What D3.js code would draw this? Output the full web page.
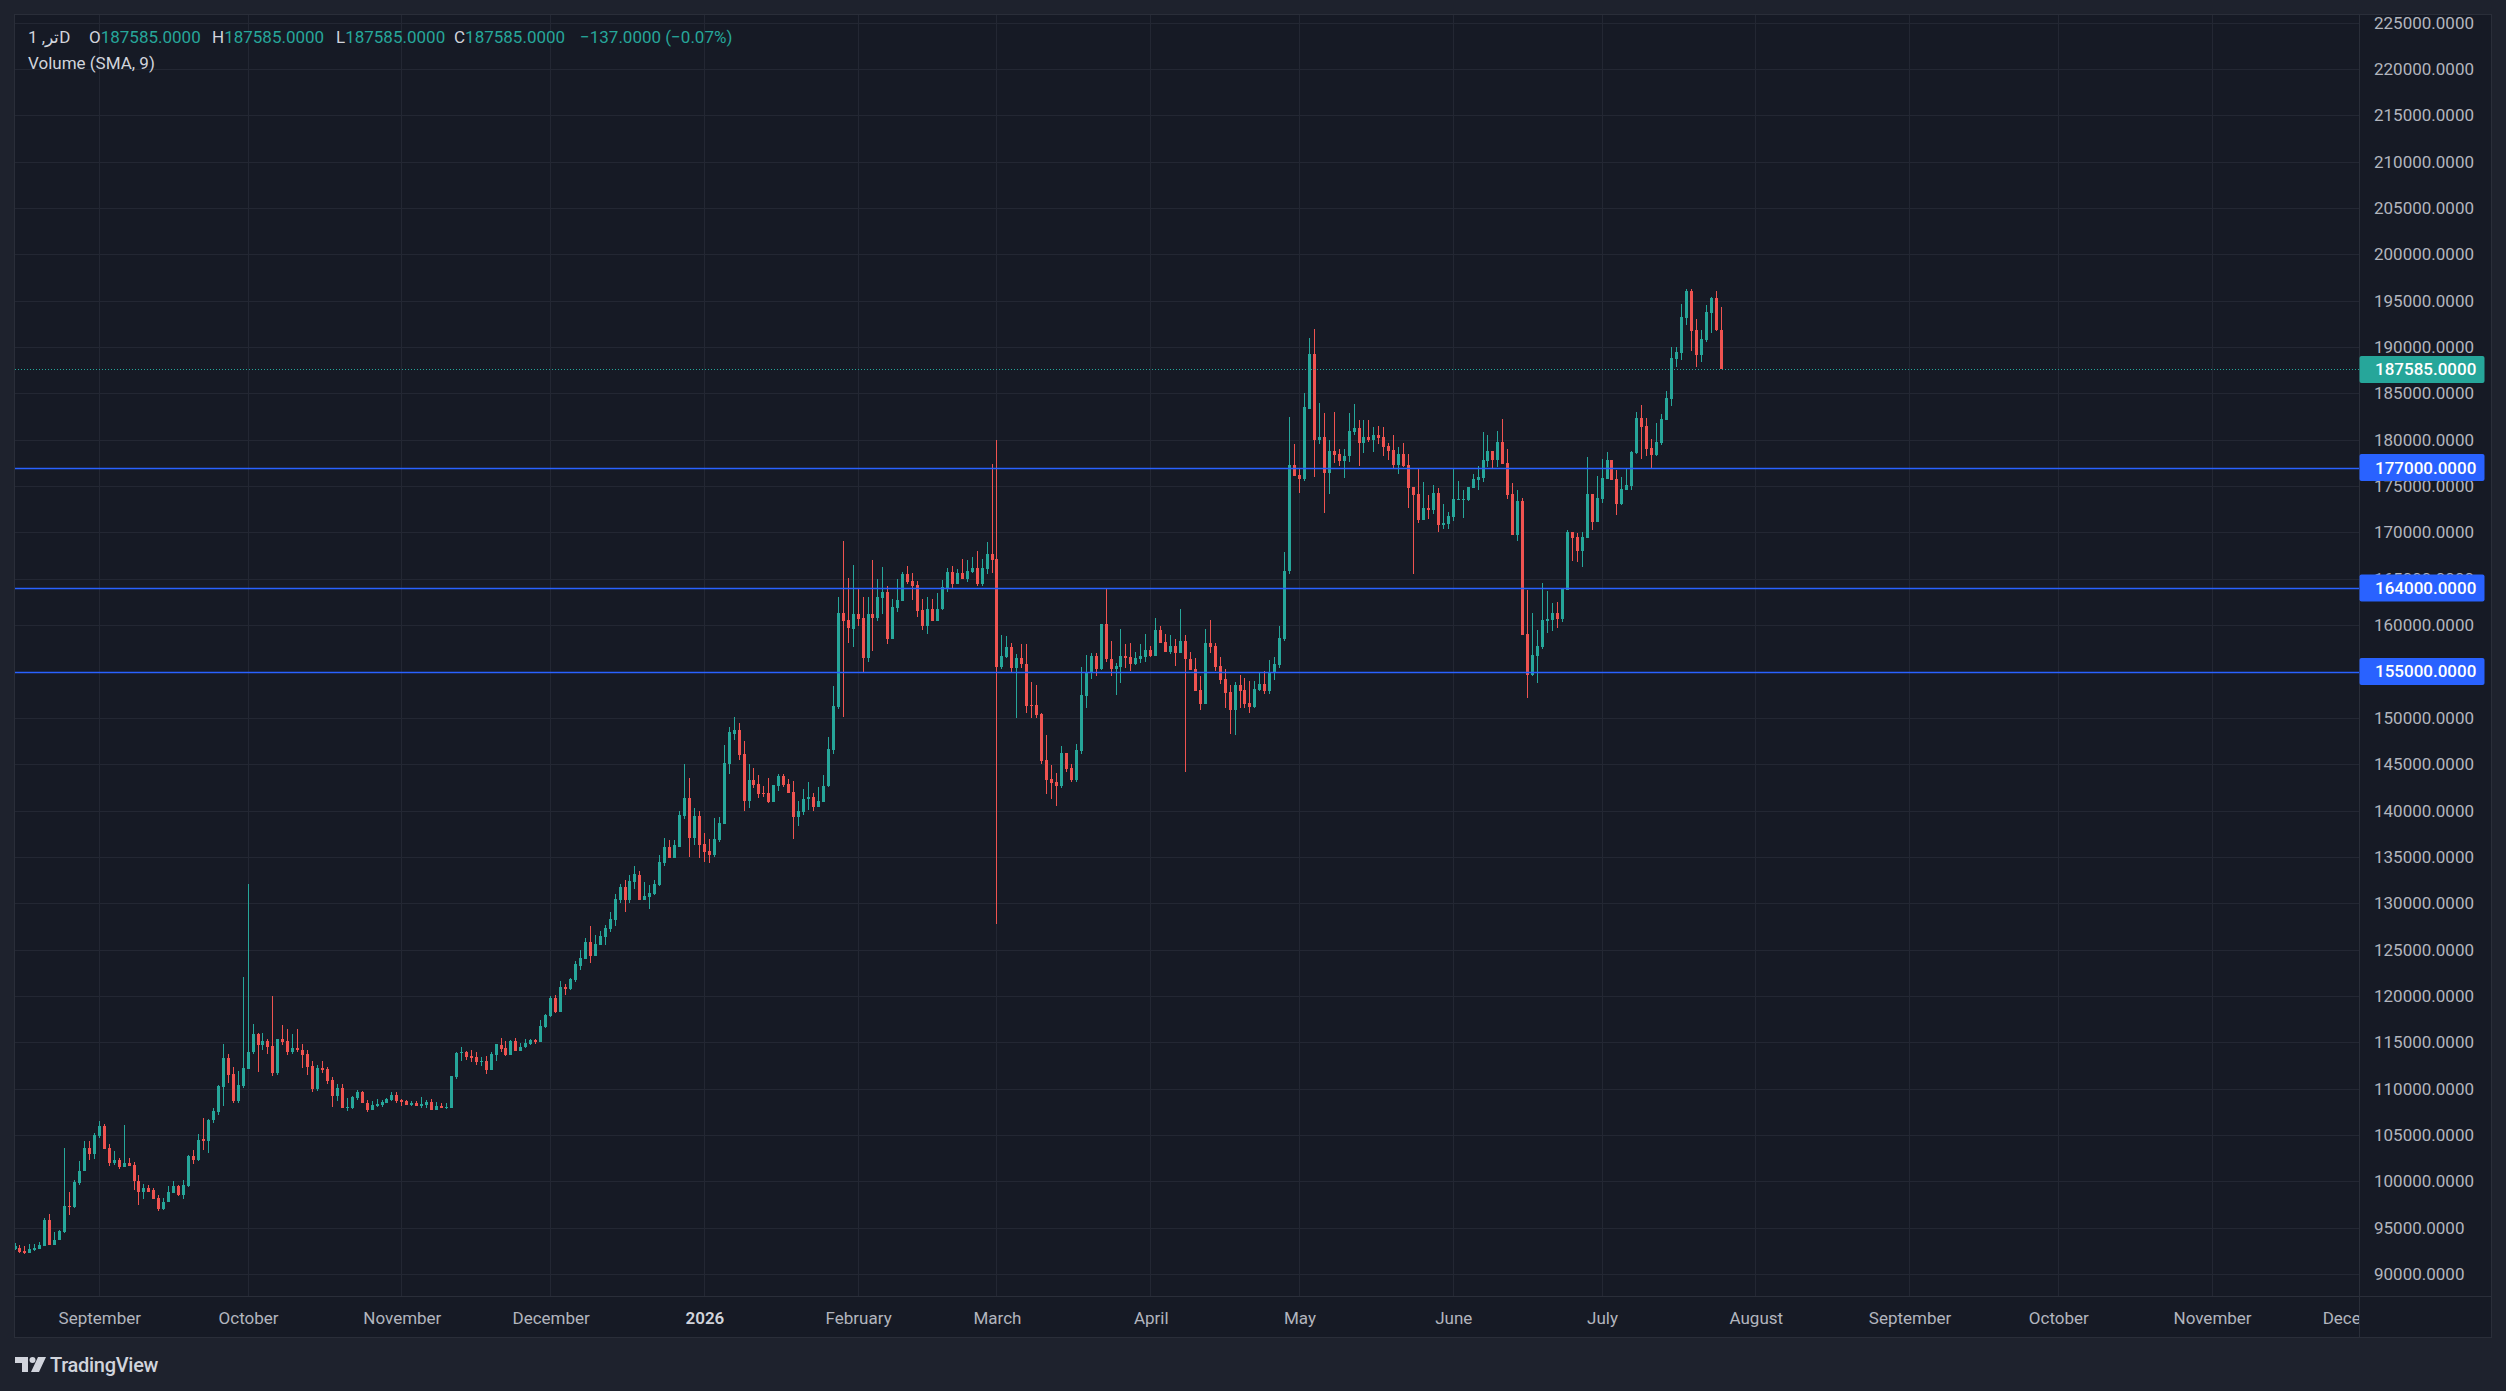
<!DOCTYPE html>
<html>
<head>
<meta charset="utf-8">
<script src="https://cdnjs.cloudflare.com/ajax/libs/d3/7.8.5/d3.min.js"></script>
<style>
  html, body { margin: 0; padding: 0; background: #1e222d; }
  svg { display: block; }
  text { font-family: Roboto, "Liberation Sans", sans-serif; }
</style>
</head>
<body>
<div class="container"></div>
<script>
const w = 2506;
const h = 1391;

// daily candles starting on firstDay, prices in thousands (one line per month)
const firstDay = '2025-08-15';

const open = [
  92.7,92.8,92.5,92.3,92.6,92.7,93.0,95.8,93.1,93.7,94.5,97.3,97.2,99.8,101.1,103.6,102.9,
  104.9,106.0,103.6,102.0,102.3,101.6,102.0,101.8,100.0,98.9,99.3,99.1,98.2,97.0,97.8,98.7,99.5,98.5,99.5,102.7,102.3,104.6,104.3,106.6,107.5,110.2,113.3,111.6,108.7,110.3,
  112.1,114.0,115.9,114.7,115.1,114.6,111.7,115.4,115.1,114.0,114.4,114.2,113.7,112.4,110.0,112.2,112.1,110.9,109.2,110.1,107.9,107.9,109.0,109.6,108.5,107.7,108.1,108.2,108.5,108.8,109.3,
  108.8,108.7,108.2,108.4,108.1,108.2,108.6,107.7,108.1,107.9,107.9,111.3,113.8,114.0,113.5,113.4,112.9,113.0,112.0,113.6,114.7,114.4,113.6,115.1,114.1,114.5,114.8,115.3,115.0,116.7,
  117.8,119.8,118.3,121.0,120.8,121.7,123.2,124.0,125.8,124.3,125.5,126.4,127.2,128.2,130.4,131.8,130.4,132.3,133.1,130.4,130.7,131.0,132.0,134.3,136.1,134.9,136.1,139.4,141.4,137.0,139.4,
  136.4,135.6,135.2,136.8,138.6,145.0,148.3,148.7,146.1,141.0,143.3,142.9,141.9,141.9,140.9,142.7,143.7,142.9,142.0,139.3,139.9,141.2,141.5,140.4,140.9,142.6,146.5,151.2,161.3,160.6,159.6,
  161.2,160.8,156.5,161.2,160.8,162.9,163.6,158.5,161.9,162.6,165.5,164.8,164.3,161.6,159.9,161.7,160.4,161.7,164.0,165.7,164.4,165.6,165.0,165.7,166.2,164.4,166.1,167.7,
  167.1,155.5,156.6,157.6,155.4,156.5,155.8,151.4,151.4,150.4,145.5,143.4,143.1,142.6,146.2,144.6,143.3,146.4,152.4,154.9,156.7,155.3,160.1,156.4,155.3,155.5,156.7,156.6,155.8,156.4,156.6,
  157.3,156.7,159.5,158.2,157.1,157.8,157.0,158.3,156.4,155.3,153.0,151.5,158.1,157.8,155.6,154.2,152.8,150.8,153.5,153.0,151.6,151.2,153.0,153.7,152.9,154.8,155.7,158.5,165.8,177.3,
  176.2,175.8,183.3,189.3,180.0,180.3,176.4,178.8,178.5,177.7,178.2,180.8,181.3,179.7,180.3,180.0,180.5,180.3,179.3,178.9,177.3,178.5,177.3,174.9,174.1,171.3,172.6,172.4,174.3,170.8,170.9,
  171.7,173.5,173.5,173.5,174.8,175.7,175.9,177.7,178.8,177.8,179.8,177.5,174.1,169.7,173.4,159.0,154.6,156.7,157.7,160.5,160.6,161.3,160.7,163.8,170.0,169.5,168.0,169.4,174.1,171.1,
  173.6,175.8,177.8,175.8,173.1,174.6,175.0,178.6,182.4,181.5,179.1,178.4,179.7,182.1,184.4,188.7,189.4,193.1,196.1,191.8,189.2,190.8,193.7,195.3,191.9
];

const high = [
  93.3,93.1,93.0,93.2,93.2,93.5,96.0,96.5,94.5,94.7,103.6,98.8,100.1,102.2,104.4,104.4,105.2,
  106.5,106.2,104.0,103.3,102.5,106.1,102.5,102.1,100.7,99.7,99.6,99.3,98.5,98.2,99.5,100.0,99.6,100.1,102.8,103.4,105.1,106.8,106.7,107.9,110.4,114.8,113.7,112.3,111.9,122.0,
  132.1,117.0,116.0,116.0,115.4,120.0,115.4,116.9,116.4,115.9,116.4,114.8,114.2,113.0,112.6,113.0,112.3,111.3,110.5,110.5,109.0,109.2,109.9,109.7,108.8,108.7,108.9,108.8,109.0,109.6,109.6,
  108.9,108.8,108.7,108.7,109.1,108.8,108.9,108.6,108.5,108.5,111.4,114.0,114.5,114.1,114.2,114.0,113.4,113.5,113.9,114.8,115.5,115.1,115.3,115.5,114.9,115.4,115.4,115.4,117.4,118.1,
  120.0,120.1,121.6,121.3,121.9,123.8,125.0,126.2,127.6,126.6,127.0,127.7,129.1,131.0,132.1,132.5,133.1,134.0,133.5,132.3,132.0,132.5,135.2,137.0,136.8,136.8,140.0,145.0,143.5,140.3,140.0,
  137.6,136.9,139.2,139.3,147.1,149.0,150.1,149.5,147.5,145.0,144.6,143.8,142.7,143.5,142.8,143.9,143.9,143.4,143.2,141.0,142.3,143.1,141.9,142.5,143.8,147.9,153.4,163.0,169.1,165.1,166.5,
  164.0,163.0,163.0,167.0,165.0,166.3,164.2,162.8,165.0,165.7,166.4,165.6,164.8,162.8,163.0,162.8,163.5,164.9,166.2,166.4,166.1,167.1,167.0,167.4,168.0,167.1,169.0,177.4,
  180.0,158.9,158.8,158.1,156.9,158.0,158.0,153.9,153.5,150.5,148.2,144.9,144.1,147.0,146.2,145.0,147.2,155.5,156.8,157.0,157.0,160.1,164.0,158.3,155.9,159.6,158.0,158.1,157.1,158.0,159.0,
  157.8,160.8,159.9,159.0,158.9,158.5,161.8,158.9,157.1,156.5,154.5,159.6,160.6,158.1,156.6,155.3,153.6,153.9,154.6,154.3,154.0,154.0,155.0,155.1,156.2,156.6,159.9,167.9,182.5,179.6,
  176.9,185.1,191.0,192.0,184.0,182.9,180.0,183.0,179.0,179.0,182.9,183.9,182.1,182.1,182.1,181.4,181.5,181.4,179.7,180.5,179.2,179.7,178.5,174.9,176.8,175.5,174.0,175.1,174.8,173.1,172.2,
  177.0,175.6,174.6,174.9,176.3,177.2,180.8,180.5,178.8,180.9,182.2,179.0,175.3,174.6,173.7,163.8,161.3,159.5,164.5,163.7,162.4,162.5,164.0,170.3,170.0,169.9,170.1,178.1,174.2,176.1,
  177.9,178.7,177.8,176.7,176.0,177.0,178.8,183.0,183.8,182.3,180.1,181.8,182.8,185.3,190.0,190.0,194.6,196.3,196.3,193.0,191.8,194.5,195.4,196.0,194.3
];

const low = [
  92.6,92.3,92.2,92.3,92.5,92.7,93.0,93.1,93.1,93.7,94.4,96.4,97.1,99.6,101.1,102.3,102.4,
  104.7,103.5,101.7,101.8,101.3,101.6,101.7,99.1,97.4,98.1,98.9,98.1,96.8,96.9,97.8,98.7,98.4,98.1,99.4,101.9,102.2,103.4,103.1,106.3,107.2,108.1,110.6,108.4,108.5,110.1,
  112.1,113.7,111.8,114.2,113.7,111.4,111.5,114.7,113.6,113.7,114.0,112.2,111.5,109.6,109.7,111.7,110.5,108.0,108.7,107.9,107.6,107.8,108.8,108.5,107.5,107.7,108.0,108.0,108.4,108.7,108.5,
  108.1,108.2,108.1,108.1,107.9,107.9,107.7,107.7,107.9,107.8,107.9,111.0,113.0,113.1,112.9,112.6,112.4,111.6,112.0,113.0,114.0,113.5,113.6,114.1,114.1,114.4,114.7,114.8,115.0,116.5,
  117.7,118.2,118.3,120.1,120.6,121.5,122.8,124.0,123.6,124.3,125.5,125.5,126.9,127.6,130.0,129.1,130.0,131.5,130.4,130.3,129.4,130.9,131.9,134.0,134.9,134.9,136.1,139.1,135.0,136.3,134.9,
  134.5,134.3,135.0,136.6,138.6,143.9,147.6,145.5,140.0,140.3,142.4,141.4,141.5,140.8,140.9,142.1,142.5,141.9,136.9,138.3,139.5,140.1,140.0,140.4,140.9,142.5,146.1,151.0,150.1,158.1,157.7,
  159.9,155.0,156.0,157.2,160.4,161.2,158.0,158.5,161.4,162.6,164.4,162.7,160.9,159.5,159.0,160.4,160.4,161.6,163.6,164.0,164.4,165.0,164.7,165.6,164.2,164.2,165.5,165.6,
  127.8,155.3,156.5,154.8,150.0,155.4,150.5,150.0,150.0,145.0,141.8,141.2,140.5,142.4,144.2,143.1,143.1,146.1,151.1,154.2,154.5,155.2,156.0,154.5,152.5,153.8,155.4,155.1,155.7,155.9,156.0,
  156.6,156.7,158.1,157.1,156.9,155.6,157.0,144.2,155.2,152.9,150.8,151.5,157.0,155.1,153.7,151.1,148.3,148.1,151.1,151.1,150.5,151.1,152.9,152.6,152.6,154.1,155.4,158.3,165.5,176.1,
  174.3,175.6,183.3,176.0,179.5,172.1,174.1,177.5,177.2,175.9,177.6,180.5,177.2,178.6,179.8,178.7,179.6,178.3,177.8,176.9,176.3,177.1,172.6,165.5,171.0,171.3,171.5,172.0,170.1,170.4,170.4,
  171.2,173.5,171.6,173.4,174.8,174.6,175.4,177.1,176.9,177.1,177.4,173.6,169.7,169.1,158.9,152.1,154.5,153.8,157.4,159.2,159.4,159.7,160.3,163.8,166.9,166.8,166.3,169.4,170.3,171.1,
  173.2,175.8,175.7,171.9,173.0,174.6,174.6,178.5,177.9,178.2,176.8,178.2,179.4,182.1,183.7,187.9,188.6,192.4,189.6,187.9,188.4,190.6,191.5,191.7,187.585
];

const close = [
  93.0,92.4,92.3,92.7,92.8,93.1,95.8,93.1,93.7,94.6,97.3,97.2,99.9,101.1,103.6,102.9,105.0,
  106.0,103.5,102.0,102.3,101.6,102.0,101.7,100.0,98.9,99.3,98.9,98.1,97.0,97.8,98.8,99.5,98.5,99.6,102.7,102.3,104.5,104.3,106.6,107.6,110.3,113.3,111.5,108.7,110.4,112.2,
  114.0,115.9,114.7,115.1,114.5,111.7,115.4,115.0,114.0,114.4,114.2,113.6,112.3,110.0,112.2,112.0,110.8,109.2,110.1,107.9,108.0,109.1,109.6,108.5,107.7,108.2,108.3,108.6,108.9,109.3,108.7,
  108.6,108.2,108.4,108.1,108.3,108.6,107.7,108.1,107.9,108.0,111.4,113.8,114.0,113.4,113.3,112.9,113.0,112.0,113.7,114.8,114.3,113.6,115.1,114.1,114.5,114.9,115.3,115.0,116.8,117.9,
  119.8,118.3,121.0,120.8,121.8,123.5,124.1,125.8,124.3,125.6,126.5,127.3,128.3,130.5,131.8,130.4,132.4,133.2,130.4,130.8,131.1,132.1,134.4,136.1,134.9,136.3,139.5,141.4,137.0,139.4,136.3,
  135.5,135.2,136.9,138.7,145.1,148.5,148.7,146.0,141.0,143.3,142.8,141.8,141.8,140.9,142.8,143.7,142.8,141.9,139.3,140.0,141.3,141.5,140.4,141.0,142.7,146.6,151.3,161.3,160.5,159.7,161.2,
  160.7,156.5,161.2,160.8,163.0,163.6,158.5,162.0,162.7,165.5,164.7,164.2,161.5,159.9,161.7,160.4,161.8,164.1,165.7,164.4,165.6,165.0,165.8,166.2,164.4,166.2,167.7,167.0,
  155.5,156.7,157.6,155.4,156.5,155.8,151.3,151.3,150.3,145.4,143.3,143.0,142.6,146.2,144.5,143.3,146.5,152.5,155.0,156.7,155.3,160.1,156.3,155.3,155.6,156.7,156.5,155.8,156.5,156.7,157.3,
  156.7,159.5,158.1,157.1,157.8,157.0,158.3,156.3,155.2,152.9,151.5,158.1,157.7,155.5,154.1,152.7,150.8,153.5,152.9,151.5,151.2,153.1,153.7,152.9,154.9,155.8,158.6,165.9,177.3,176.1,
  175.8,183.5,189.3,180.0,180.3,176.4,178.8,178.4,177.7,178.3,180.9,181.3,179.7,180.3,180.0,180.5,180.2,179.2,178.8,177.3,178.5,177.2,174.8,174.0,171.3,172.6,172.4,174.3,170.8,171.0,171.8,
  173.6,173.6,173.6,174.9,175.8,176.0,177.8,178.8,177.8,179.8,177.4,174.0,169.7,173.4,158.9,154.6,156.8,157.8,160.6,160.7,161.3,160.7,164.0,170.0,169.4,168.0,169.5,174.1,171.1,173.7,
  175.9,177.8,175.7,173.1,174.7,175.1,178.7,182.4,181.4,179.0,178.4,179.8,182.2,184.5,188.8,189.5,193.2,196.1,191.7,189.2,190.9,193.8,195.3,191.8,187.585
];

// horizontal price levels and last price
const levels = [177000, 164000, 155000];
const lastPrice = 187585;

// axis ticks
const priceTicks = [90000, 95000, 100000, 105000, 110000, 115000, 120000, 125000, 130000, 135000, 140000,
  145000, 150000, 155000, 160000, 165000, 170000, 175000, 180000, 185000, 190000, 195000, 200000,
  205000, 210000, 215000, 220000, 225000];
const monthTicks = ['2025-09-01', '2025-10-01', '2025-11-01', '2025-12-01', '2026-01-01', '2026-02-01',
  '2026-03-01', '2026-04-01', '2026-05-01', '2026-06-01', '2026-07-01', '2026-08-01', '2026-09-01',
  '2026-10-01', '2026-11-01', '2026-12-01'];
const monthLabels = ['September', 'October', 'November', 'December', '2026', 'February', 'March', 'April',
  'May', 'June', 'July', 'August', 'September', 'October', 'November', 'December'];

// legend
const legendTitle = '1 ,ترD';
const legendItems = [['O', '187585.0000'], ['H', '187585.0000'], ['L', '187585.0000'], ['C', '187585.0000']];
const legendChange = '\u2212137.0000 (\u22120.07%)';

const upColor = '#26a69a';
const downColor = '#ef5350';
const levelColor = '#2962ff';
const textColor = '#b2b5be';
const gridColor = '#232733';
const borderColor = '#2a2e39';

const plot = { left: 15, top: 15, right: 2359, bottom: 1296 };
const paneRight = 2491;
const paneBottom = 1337;

let svg = null;
let x = null;
let y = null;

window.onload = function () {
  setSvg();
  setScales();
  drawGrid();
  drawCandles();
  drawAxes();
  drawLevels();
  drawLegend();
  drawLogo();
};

function setSvg() {
  svg = d3
    .select('.container')
    .append('svg')
    .attr('width', w)
    .attr('height', h);

  svg.append('rect').attr('width', w).attr('height', h).attr('fill', '#1e222d');
  svg.append('rect')
    .attr('x', plot.left - 0.5)
    .attr('y', plot.top - 0.5)
    .attr('width', paneRight - plot.left + 1)
    .attr('height', paneBottom - plot.top + 1)
    .attr('fill', '#161a25')
    .attr('stroke', borderColor);

  const defs = svg.append('defs');
  defs.append('clipPath').attr('id', 'plotClip')
    .append('rect')
    .attr('x', plot.left).attr('y', plot.top)
    .attr('width', plot.right - plot.left).attr('height', plot.bottom - plot.top);
  defs.append('clipPath').attr('id', 'timeClip')
    .append('rect')
    .attr('x', plot.left).attr('y', plot.bottom)
    .attr('width', plot.right - plot.left).attr('height', paneBottom - plot.bottom);
}

function setScales() {
  x = d3.scaleUtc()
    .domain([new Date(Date.UTC(2025, 7, 15)), new Date(Date.UTC(2026, 10, 30, 15))])
    .range([plot.left, plot.right]);
  y = d3.scaleLinear()
    .domain([87630, 225830])
    .range([plot.bottom, plot.top]);
}

function drawGrid() {
  const parse = d3.utcParse('%Y-%m-%d');
  const g = svg.append('g').attr('clip-path', 'url(#plotClip)');

  g.selectAll('line.hgrid')
    .data(priceTicks)
    .enter()
    .append('line')
    .attr('class', 'hgrid')
    .attr('x1', plot.left).attr('x2', plot.right)
    .attr('y1', (d) => Math.round(y(d)) + 0.5)
    .attr('y2', (d) => Math.round(y(d)) + 0.5)
    .attr('stroke', gridColor);

  g.selectAll('line.vgrid')
    .data(monthTicks.map(parse))
    .enter()
    .append('line')
    .attr('class', 'vgrid')
    .attr('y1', plot.top).attr('y2', plot.bottom)
    .attr('x1', (d) => Math.floor(x(d)) + 0.5)
    .attr('x2', (d) => Math.floor(x(d)) + 0.5)
    .attr('stroke', gridColor);

  // axis separators
  svg.append('line')
    .attr('x1', plot.right + 0.5).attr('x2', plot.right + 0.5)
    .attr('y1', plot.top).attr('y2', paneBottom)
    .attr('stroke', borderColor);
  svg.append('line')
    .attr('x1', plot.left).attr('x2', paneRight)
    .attr('y1', plot.bottom + 0.5).attr('y2', plot.bottom + 0.5)
    .attr('stroke', borderColor);
}

function drawCandles() {
  const start = d3.utcParse('%Y-%m-%d')(firstDay);
  const n = Math.min(open.length, high.length, low.length, close.length);
  const candles = d3.range(n).map((i) => ({
    date: d3.utcDay.offset(start, i),
    o: open[i] * 1000,
    h: high[i] * 1000,
    l: low[i] * 1000,
    c: close[i] * 1000,
  }));

  const g = svg.append('g').attr('clip-path', 'url(#plotClip)').attr('shape-rendering', 'crispEdges');
  const color = (d) => (d.c >= d.o ? upColor : downColor);

  g.selectAll('rect.wick')
    .data(candles)
    .enter()
    .append('rect')
    .attr('class', 'wick')
    .attr('x', (d) => Math.floor(x(d.date)))
    .attr('width', 1)
    .attr('y', (d) => y(d.h))
    .attr('height', (d) => Math.max(1, y(d.l) - y(d.h)))
    .attr('fill', color);

  g.selectAll('rect.body')
    .data(candles)
    .enter()
    .append('rect')
    .attr('class', 'body')
    .attr('x', (d) => Math.floor(x(d.date)) - 1)
    .attr('width', 3)
    .attr('y', (d) => y(Math.max(d.o, d.c)))
    .attr('height', (d) => Math.max(1, Math.abs(y(d.o) - y(d.c))))
    .attr('fill', color);
}

function drawAxes() {
  const fmt = d3.format('.4f');
  const yAxis = d3.axisRight(y)
    .tickValues(priceTicks)
    .tickFormat((d) => fmt(d))
    .tickSize(0)
    .tickPadding(15);

  const gy = svg.append('g').attr('transform', `translate(${plot.right},0)`).call(yAxis);
  gy.select('.domain').remove();
  gy.selectAll('text')
    .attr('fill', textColor)
    .style('font-size', '17px')
    .style('font-family', 'Roboto, sans-serif');

  const parse = d3.utcParse('%Y-%m-%d');
  const xAxis = d3.axisBottom(x)
    .tickValues(monthTicks.map(parse))
    .tickFormat((d, i) => monthLabels[i])
    .tickSize(0)
    .tickPadding(16);

  const gx = svg.append('g')
    .attr('clip-path', 'url(#timeClip)')
    .append('g')
    .attr('transform', `translate(0,${plot.bottom})`)
    .call(xAxis);
  gx.select('.domain').remove();
  gx.selectAll('text')
    .attr('fill', (d, i) => (monthLabels[i] === '2026' ? '#d1d4dc' : textColor))
    .style('font-weight', (d, i) => (monthLabels[i] === '2026' ? 600 : 400))
    .style('font-size', '17px')
    .style('font-family', 'Roboto, sans-serif');
}

function drawLevels() {
  const g = svg.append('g');

  g.append('g')
    .attr('clip-path', 'url(#plotClip)')
    .selectAll('line')
    .data(levels)
    .enter()
    .append('line')
    .attr('x1', plot.left).attr('x2', plot.right)
    .attr('y1', (d) => Math.round(y(d)) + 0.5)
    .attr('y2', (d) => Math.round(y(d)) + 0.5)
    .attr('stroke', levelColor)
    .attr('stroke-width', 1.3);

  g.append('line')
    .attr('x1', plot.left).attr('x2', plot.right)
    .attr('y1', Math.round(y(lastPrice)) + 0.5)
    .attr('y2', Math.round(y(lastPrice)) + 0.5)
    .attr('stroke', upColor)
    .attr('stroke-dasharray', '1,2');

  const labels = levels.map((v) => ({ v, fill: levelColor })).concat([{ v: lastPrice, fill: upColor }]);
  const fmt = d3.format('.4f');

  const lg = g.selectAll('g.lbl')
    .data(labels)
    .enter()
    .append('g')
    .attr('class', 'lbl')
    .attr('transform', (d) => `translate(${plot.right},${y(d.v)})`);

  lg.append('rect')
    .attr('x', 0.5)
    .attr('y', -13.5)
    .attr('width', 125)
    .attr('height', 27)
    .attr('rx', 2)
    .attr('fill', (d) => d.fill);

  lg.append('text')
    .attr('x', 16)
    .attr('dy', '0.35em')
    .attr('fill', '#ffffff')
    .style('font-size', '17px')
    .style('font-weight', 500)
    .text((d) => fmt(d.v));
}

function drawLegend() {
  const t1 = svg.append('text')
    .attr('y', 43)
    .style('font-size', '17px');

  t1.append('tspan').attr('x', 28).attr('fill', '#d1d4dc').text(legendTitle);

  const starts = [89, 212, 336, 454];
  legendItems.forEach((item, i) => {
    t1.append('tspan').attr('x', starts[i]).attr('fill', '#d1d4dc').text(item[0]);
    t1.append('tspan').attr('fill', upColor).text(item[1]);
  });
  t1.append('tspan').attr('x', 580).attr('fill', upColor).text(legendChange);

  svg.append('text')
    .attr('x', 28)
    .attr('y', 69)
    .attr('fill', '#d1d4dc')
    .style('font-size', '17px')
    .text('Volume (SMA, 9)');
}

function drawLogo() {
  const g = svg.append('g').attr('fill', '#d1d4dc');
  g.append('path').attr('d', 'M15 1357 h13 v15 h-6 v-9 h-7 z');
  g.append('circle').attr('cx', 32.5).attr('cy', 1360).attr('r', 3);
  g.append('path').attr('d', 'M38 1357 h8 l-7 15 h-8 z');
  g.append('text')
    .attr('x', 50)
    .attr('y', 1372)
    .style('font-size', '20px')
    .style('font-weight', 500)
    .style('letter-spacing', '-0.3px')
    .text('TradingView');
}
</script>
</body>
</html>
